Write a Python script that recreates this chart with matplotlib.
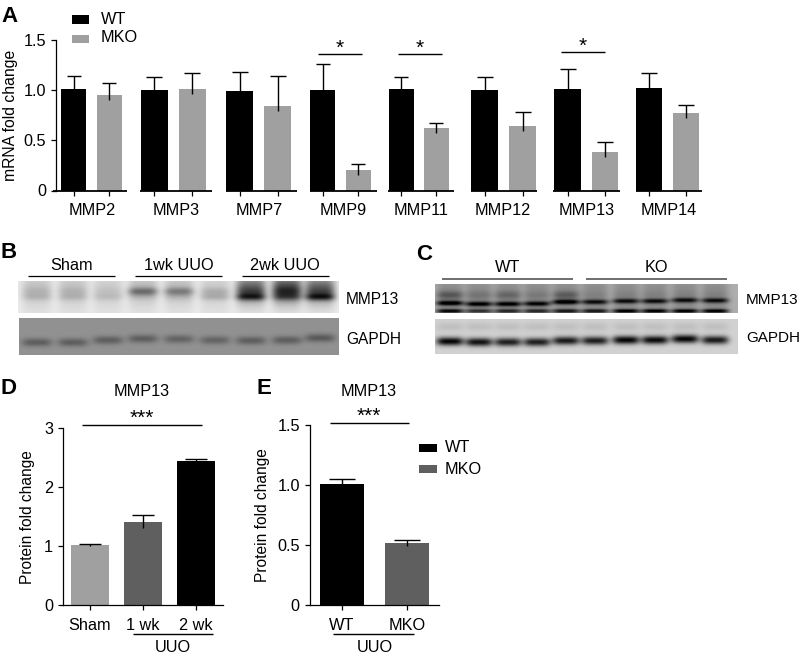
import numpy as np
import matplotlib
matplotlib.use("Agg")
import matplotlib.pyplot as plt
from matplotlib.patches import Rectangle

plt.rcParams["font.family"] = ["Liberation Sans", "DejaVu Sans"]
plt.rcParams["font.size"] = 11.7

W, H = 803, 657

# panel A data
genes = ["MMP2", "MMP3", "MMP7", "MMP9", "MMP11", "MMP12", "MMP13", "MMP14"]
wt_vals = [1.01, 1.00, 0.995, 1.00, 1.015, 1.005, 1.01, 1.02]
wt_tops = [1.14, 1.135, 1.18, 1.26, 1.13, 1.13, 1.215, 1.175]
mko_vals = [0.95, 1.01, 0.84, 0.20, 0.625, 0.645, 0.38, 0.77]
mko_tops = [1.075, 1.175, 1.14, 0.26, 0.675, 0.785, 0.48, 0.855]

# panel D data
d_labels = ["Sham", "1 wk", "2 wk"]
d_vals = [1.02, 1.405, 2.43]
d_tops = [1.03, 1.53, 2.475]

# panel E data
e_labels = ["WT", "MKO"]
e_vals = [1.005, 0.515]
e_tops = [1.05, 0.545]

# blot band strengths, one value per lane
b_haze = [0.12, 0.12, 0.08, 0.15, 0.14, 0.08, 0.50, 0.62, 0.50]
b_upper = [0.05, 0.05, 0.03, 0.30, 0.25, 0.10, 0.12, 0.12, 0.10]
b_lower = [0.08, 0.08, 0.07, 0.04, 0.05, 0.12, 0.42, 0.22, 0.45]
b_gapdh = [0.20, 0.20, 0.20, 0.20, 0.18, 0.18, 0.20, 0.20, 0.22]
b_gapdh_y = [0.66, 0.66, 0.60, 0.56, 0.57, 0.60, 0.61, 0.60, 0.54]
c_main = [0.62, 0.58, 0.58, 0.55, 0.62, 0.50, 0.50, 0.50, 0.50, 0.50]
c_main_y = [0.66, 0.69, 0.69, 0.68, 0.62, 0.62, 0.59, 0.59, 0.56, 0.57]
c_upper = [0.20, 0.08, 0.14, 0.06, 0.18, 0.03, 0.03, 0.03, 0.03, 0.03]
c_bottom = [0.55, 0.38, 0.42, 0.42, 0.48, 0.48, 0.58, 0.58, 0.58, 0.58]
c_gapdh = [0.80, 0.75, 0.70, 0.70, 0.72, 0.70, 0.80, 0.78, 0.80, 0.72]
c_gapdh_y = [0.64, 0.66, 0.66, 0.66, 0.62, 0.62, 0.60, 0.60, 0.57, 0.60]

GREY = "#a0a0a0"
DARK = "#5f5f5f"

fig = plt.figure(figsize=(W / 100, H / 100), dpi=100)

# overlay in pixel coordinates for blots and annotations
ov = fig.add_axes([0, 0, 1, 1], zorder=5)
ov.set_xlim(0, W)
ov.set_ylim(H, 0)
ov.axis("off")
ov.patch.set_alpha(0)


def make_axes(left, right, top, bottom, ymax):
    ax = fig.add_axes([left / W, 1 - bottom / H, (right - left) / W, (bottom - top) / H])
    ax.set_xlim(left, right)
    ax.set_ylim(0, ymax)
    ax.spines["top"].set_visible(False)
    ax.spines["right"].set_visible(False)
    ax.spines["left"].set_linewidth(0.9)
    ax.spines["bottom"].set_linewidth(0.9)
    ax.tick_params(width=0.9, length=3.6)
    return ax


def bars(ax, xs, vals, tops, colors, width, dip):
    ax.bar(xs, vals, width=width, color=colors, edgecolor="none")
    lows = [v - d for v, d in zip(vals, dip)]
    ax.vlines(xs, lows, tops, color="black", lw=1.0)
    ax.plot(xs, tops, ls="none", marker="_", ms=width * 0.42, mew=1.0, color="black")


def blot_image(box, centers, half, bg, layers):
    x0, x1, y0, y1 = box
    xs = np.arange(x0, x1) + 0.5
    ys = (np.arange(y0, y1) + 0.5 - y0) / (y1 - y0)
    dark = np.zeros((len(ys), len(xs)))
    for i, c in enumerate(centers):
        lane = np.exp(-(np.abs(xs - c) / half) ** 4)
        col = np.zeros_like(ys)
        for strength, pos, sigma in layers:
            s = strength[i] if np.ndim(strength) else strength
            p = pos[i] if np.ndim(pos) else pos
            col += s * np.exp(-((ys - p) ** 2) / (2 * sigma**2))
        dark += np.outer(col, lane)
    img = np.clip(bg - dark, 0, 1)
    ov.imshow(img, cmap="gray", vmin=0, vmax=1, extent=(x0, x1, y1, y0),
              aspect="auto", interpolation="bilinear")


# A
ax_a = make_axes(56, 702, 40, 190.5, 1.5)
wt_x = [74, 154.5, 239.7, 323, 401.5, 484.8, 567.7, 649.3]
mko_x = [109.5, 192.5, 278, 358.5, 436.5, 522.7, 604.7, 685.7]
wt_w = [25, 27, 27, 25, 25, 27, 27, 26]
mko_w = [25, 27, 27, 25, 25, 27, 26, 26]
for i in range(len(genes)):
    bars(ax_a, [wt_x[i]], [wt_vals[i]], [wt_tops[i]], "black", wt_w[i], [0])
    bars(ax_a, [mko_x[i]], [mko_vals[i]], [mko_tops[i]], GREY, mko_w[i], [0.05])
ax_a.spines["bottom"].set_visible(False)
seg_start = [53, 140, 226, 310, 388, 471, 553, 636]
seg_end = [127, 212, 297, 377, 454, 537, 620, 702]
ax_a.hlines([0] * 8, seg_start, seg_end, color="black", lw=1.3, clip_on=False, zorder=4)
ax_a.set_yticks([0, 0.5, 1.0, 1.5], ["0", "0.5", "1.0", "1.5"])
ax_a.set_xticks(wt_x + mko_x, minor=True)
ax_a.set_xticks([92, 176, 259, 343, 421, 503, 587, 669], genes)
ax_a.tick_params(axis="x", which="major", length=0, pad=9)
ax_a.tick_params(axis="x", which="minor", length=3.5, width=0.9)

# D
ax_d = make_axes(63, 223, 427.7, 605, 3)
d_x = [90, 143, 196]
bars(ax_d, d_x, d_vals, d_tops, [GREY, DARK, "black"], 37.5, [0.03, 0.1, 0.03])
ax_d.set_yticks([0, 1, 2, 3])
ax_d.set_xticks(d_x, d_labels)
ax_d.tick_params(axis="x", pad=5.8)

# E
ax_e = make_axes(309.7, 439, 424.7, 605.3, 1.5)
e_x = [342, 407]
bars(ax_e, e_x, e_vals, e_tops, ["black", DARK], 44.5, [0.03, 0.02])
ax_e.set_yticks([0, 0.5, 1.0, 1.5], ["0", "0.5", "1.0", "1.5"])
ax_e.set_xticks(e_x, e_labels)
ax_e.tick_params(axis="x", pad=5.8)

# B blots
b_lanes = [37, 73, 108, 143, 179, 215, 251, 287, 320]
blot_image((18, 339, 281, 313), b_lanes, 15, 0.92,
           [(0.06, 0.5, 0.6), (b_haze, 0.25, 0.28), (b_upper, 0.33, 0.09), (b_lower, 0.50, 0.08)])
blot_image((19, 339, 318, 355), b_lanes, 15, 0.57, [(b_gapdh, b_gapdh_y, 0.08)])

# C blots
c_lanes = [450, 479, 508, 537, 566, 595, 626, 655, 685, 715]
blot_image((435, 738, 284, 313), c_lanes, 13.5, 0.68,
           [(0.15, 0.5, 0.7), (c_upper, 0.38, 0.10), (c_main, c_main_y, 0.06), (c_bottom, 0.93, 0.05)])
blot_image((435, 738, 319, 354), c_lanes, 13.5, 0.82,
           [(c_gapdh, c_gapdh_y, 0.085), (0.07, 0.22, 0.09)])
ov.set_xlim(0, W)
ov.set_ylim(H, 0)


def label(x, y, s, ha="center", **kw):
    ov.text(x, y, s, ha=ha, va="center", **kw)


def line(x0, x1, y, color="black", lw=1.0):
    ov.plot([x0, x1], [y, y], color=color, lw=lw, solid_capstyle="butt")


# panel letters
for x, y, s in [(1, 16, "A"), (1, 253, "B"), (416, 254, "C"), (1, 388, "D"), (257, 388, "E")]:
    label(x, y, s, ha="left", fontsize=16, fontweight="bold")

# y axis titles
label(10.5, 115, "mRNA fold change", rotation=90, fontsize=11.3)
label(28, 517, "Protein fold change", rotation=90, fontsize=11.2)
label(263, 515, "Protein fold change", rotation=90, fontsize=11.2)

# legends
ov.add_patch(Rectangle((71.7, 15.3), 17.6, 8.7, color="black", lw=0))
ov.add_patch(Rectangle((71.7, 34.7), 17.6, 8, color=GREY, lw=0))
label(101, 20, "WT", ha="left")
label(101, 38, "MKO", ha="left")
ov.add_patch(Rectangle((419.3, 444), 17.7, 8, color="black", lw=0))
ov.add_patch(Rectangle((419.3, 465), 17.7, 8, color=DARK, lw=0))
label(445, 448, "WT", ha="left")
label(445, 469, "MKO", ha="left")

# significance in A
for x0, x1, y in [(318, 362, 54), (398, 442, 54), (561, 605, 52)]:
    line(x0, x1, y)
    label((x0 + x1) / 2, y - 6, "*", fontsize=15)

# D and E annotations
label(142, 392, "MMP13")
line(82, 202, 425)
label(142, 418, "***", fontsize=15)
line(133, 213, 634)
label(173, 648, "UUO")
label(369, 392, "MMP13")
line(330, 409, 423)
label(369, 416, "***", fontsize=15)
line(333, 414, 634)
label(375, 648, "UUO")

# blot labels
for x0, x1, xc, s in [(28, 115, 71.5, "Sham"), (135, 222, 178.5, "1wk UUO"), (242, 329, 285, "2wk UUO")]:
    line(x0, x1, 276, lw=0.9)
    label(xc, 265, s)
label(346, 299, "MMP13", ha="left", fontsize=11.2)
label(346, 340, "GAPDH", ha="left", fontsize=11.2)
for x0, x1, xc, s in [(442, 573, 508, "WT"), (586, 727, 656, "KO")]:
    line(x0, x1, 279, color="#555555", lw=1.2)
    label(xc, 268, s)
label(746, 300, "MMP13", ha="left", fontsize=11)
label(746, 338, "GAPDH", ha="left", fontsize=11)

fig.savefig("out.png", dpi=100)
